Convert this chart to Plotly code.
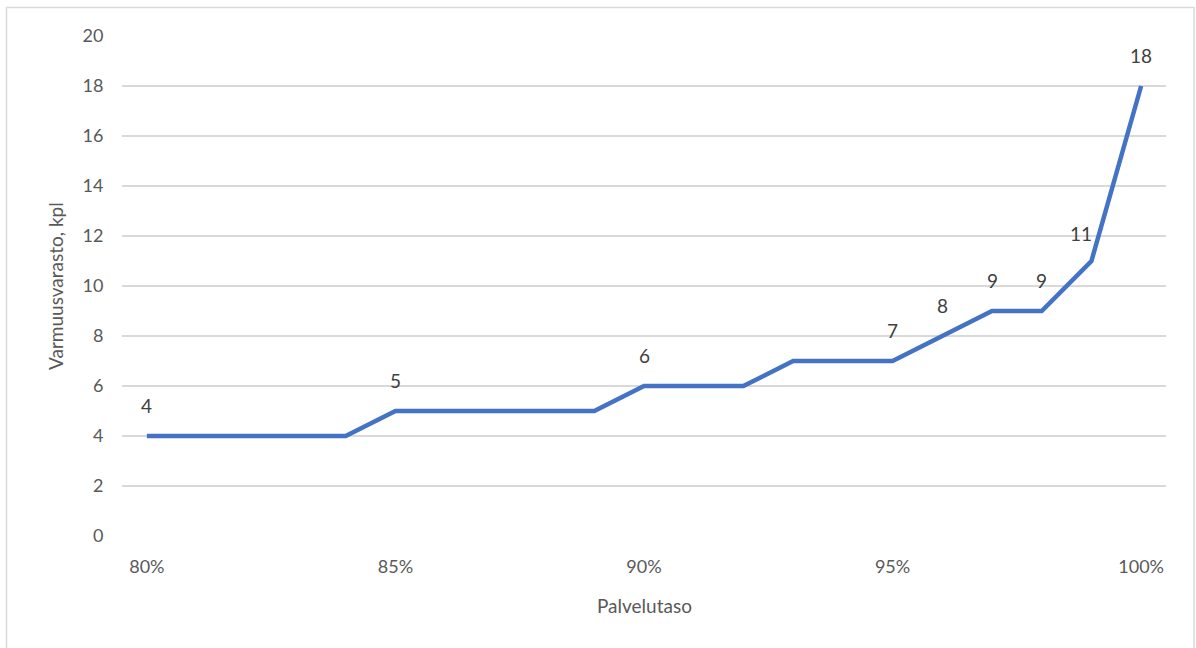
import plotly.graph_objects as go

# Service level (%) and the resulting safety stock (pcs)
service_level = [80, 81, 82, 83, 84, 85, 86, 87, 88, 89, 90,
                 91, 92, 93, 94, 95, 96, 97, 98, 99, 100]
safety_stock = [4, 4, 4, 4, 4, 5, 5, 5, 5, 5, 6,
                6, 6, 7, 7, 7, 8, 9, 9, 11, 18]
labelled_levels = [80, 85, 90, 95, 96, 97, 98, 99, 100]
x_tick_values = [80, 85, 90, 95, 100]
x_tick_labels = ["80%", "85%", "90%", "95%", "100%"]
y_tick_values = [0, 2, 4, 6, 8, 10, 12, 14, 16, 18, 20]

FONT = "Lato, Calibri, Carlito, sans-serif"
AXIS_GREY = "#595959"
LABEL_GREY = "#404040"
GRID = "#d9d9d9"
BLUE = "#4472C4"

W, H = 1196, 648
L, R, T, B = 122, 30, 36, 112
plot_w = W - L - R
plot_h = H - T - B

fig = go.Figure()
fig.add_trace(go.Scatter(
    x=service_level, y=safety_stock, mode="lines",
    line=dict(color=BLUE, width=4.5, shape="linear"),
    hoverinfo="skip", showlegend=False,
))

# value labels above selected points
annotations = []
for lvl, val in zip(service_level, safety_stock):
    if lvl in labelled_levels:
        dx, dy = (-10, 28) if lvl == 99 else (0, 31)
        annotations.append(dict(
            x=lvl, y=val, xref="x", yref="y", text=str(val),
            showarrow=False, xanchor="center", yanchor="middle",
            xshift=dx, yshift=dy,
            font=dict(family=FONT, size=19, color=LABEL_GREY),
        ))

# axis titles
annotations.append(dict(
    x=0.5, y=0, xref="paper", yref="paper", text="Palvelutaso",
    showarrow=False, xanchor="center", yanchor="middle", yshift=-69,
    font=dict(family=FONT, size=19, color=AXIS_GREY),
))
annotations.append(dict(
    x=0, y=0.5, xref="paper", yref="paper", text="Varmuusvarasto, kpl",
    showarrow=False, xanchor="center", yanchor="middle", xshift=-67,
    textangle=-90,
    font=dict(family=FONT, size=19, color=AXIS_GREY),
))

# chart area border
shapes = [dict(
    type="rect", xref="paper", yref="paper",
    x0=(6.5 - L) / plot_w, x1=(1194 - L) / plot_w,
    y0=(T + plot_h - 660) / plot_h, y1=(T + plot_h - 7.5) / plot_h,
    line=dict(color=GRID, width=1.5), fillcolor="rgba(0,0,0,0)", layer="below",
)]

fig.update_layout(
    width=W, height=H,
    margin=dict(l=L, r=R, t=T, b=B),
    paper_bgcolor="white", plot_bgcolor="white",
    font=dict(family=FONT, size=18, color=AXIS_GREY),
    annotations=annotations, shapes=shapes,
    xaxis=dict(
        range=[79.5, 100.5], tickmode="array",
        tickvals=x_tick_values, ticktext=x_tick_labels,
        showgrid=False, zeroline=False, showline=False,
        ticks="outside", ticklen=14, tickcolor="rgba(0,0,0,0)",
        tickfont=dict(family=FONT, size=18, color=AXIS_GREY),
        fixedrange=True,
    ),
    yaxis=dict(
        range=[0, 20], tickmode="array", tickvals=y_tick_values,
        showgrid=True, gridcolor=GRID, gridwidth=1.5,
        zeroline=False, showline=False,
        ticks="outside", ticklen=14, tickcolor="rgba(0,0,0,0)",
        tickfont=dict(family=FONT, size=18, color=AXIS_GREY),
        fixedrange=True,
    ),
)

fig.write_html("out.html", config={"displayModeBar": False})
